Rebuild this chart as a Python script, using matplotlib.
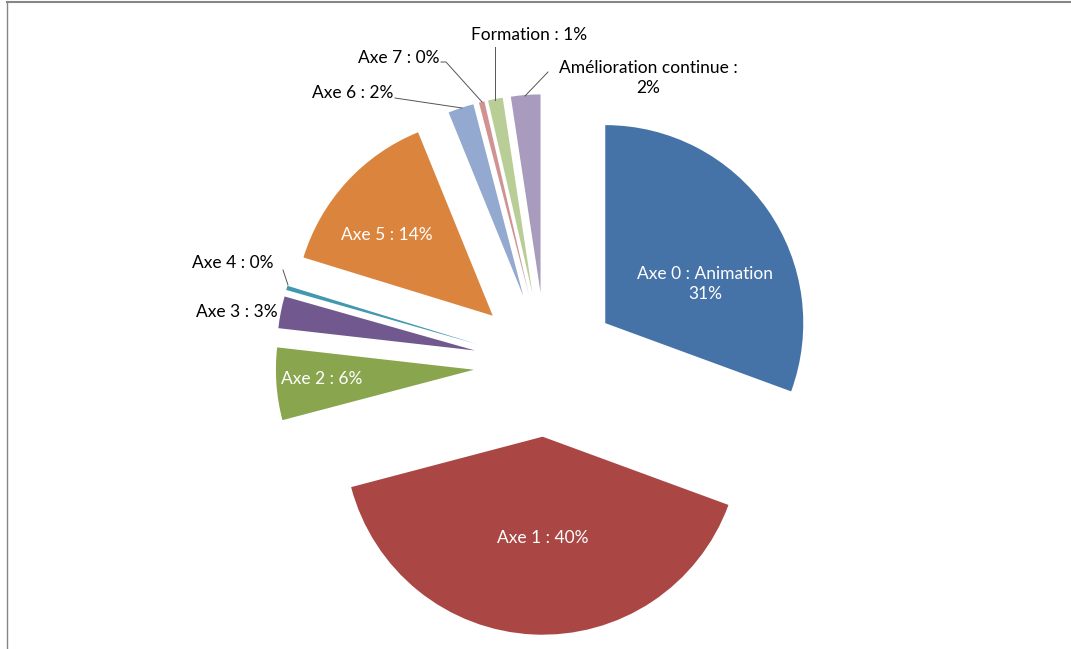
import matplotlib.pyplot as plt
from matplotlib.lines import Line2D

labels = ['Axe 0 : Animation', 'Axe 1', 'Axe 2', 'Axe 3', 'Axe 4', 'Axe 5',
          'Axe 6', 'Axe 7', 'Formation', 'Amélioration continue']
values = [30.6, 40.3, 5.9, 2.6, 0.35, 14.1, 2.1, 0.45, 1.2, 2.4]
colors = ['#4572A7', '#AA4643', '#89A54E', '#71588F', '#4198AF', '#DB843D',
          '#93A9CF', '#D19392', '#B9CD96', '#A99BBD']

W, H = 1071, 649
fig = plt.figure(figsize=(W / 100, H / 100), dpi=100)
ax = fig.add_axes([0, 0, 1, 1])

cx, cy, r = 546, H - 364.5, 198   # pie centre and radius (pixels)
# explode is an absolute offset in data units -> 36.5 % of the radius
ax.pie(values, colors=colors, startangle=90, counterclock=False,
       explode=[0.365 * r] * len(values), center=(cx, cy), radius=r,
       wedgeprops=dict(linewidth=0))
ax.set_xlim(0, W)
ax.set_ylim(0, H)
ax.set_aspect('equal')
ax.axis('off')

plt.rcParams['font.family'] = ['Lato', 'DejaVu Sans']
fs = 12.5
pct = [f'{round(v):d}%' for v in values]

# labels inside the big slices (white)
ax.text(705, H - 284, f'{labels[0]}\n{pct[0]}', color='white', fontsize=fs,
        ha='center', va='center', linespacing=1.25)
ax.text(543, H - 538, f'{labels[1]} : {pct[1]}', color='white', fontsize=fs,
        ha='center', va='center')
ax.text(322, H - 379, f'{labels[2]} : {pct[2]}', color='white', fontsize=fs,
        ha='center', va='center')
ax.text(387, H - 235, f'{labels[5]} : {pct[5]}', color='white', fontsize=fs,
        ha='center', va='center')

# outside labels (black) with leader lines
ax.text(278, H - 312, f'{labels[3]} : {pct[3]}', fontsize=fs, ha='right', va='center')
ax.text(273, H - 263, f'{labels[4]} : {pct[4]}', fontsize=fs, ha='right', va='center')
ax.text(393, H - 93, f'{labels[6]} : {pct[6]}', fontsize=fs, ha='right', va='center')
ax.text(440, H - 58, f'{labels[7]} : {pct[7]}', fontsize=fs, ha='right', va='center')
ax.text(529, H - 35, f'{labels[8]} : {pct[8]}', fontsize=fs, ha='center', va='center')
ax.text(648, H - 78, f'{labels[9]} :\n{pct[9]}', fontsize=fs, ha='center', va='center',
        linespacing=1.35)

lc = '#555555'
ax.plot([283, 288], [H - 270, H - 285], color=lc, lw=0.7)
ax.plot([395, 462], [H - 98, H - 108], color=lc, lw=0.7)
ax.plot([441, 446, 482], [H - 62, H - 62, H - 102], color=lc, lw=0.7)
ax.plot([495, 495], [H - 47, H - 100], color=lc, lw=0.7)
ax.plot([548, 525], [H - 72, H - 96], color=lc, lw=0.7)

# chart frame
fc = '#868686'
fig.add_artist(Line2D([7 / W, 1], [1 - 2 / H, 1 - 2 / H], color=fc, lw=1.5))
fig.add_artist(Line2D([7 / W, 7 / W], [0, 1 - 2 / H], color=fc, lw=1.0))

fig.savefig('out.png', dpi=100, facecolor='white')
